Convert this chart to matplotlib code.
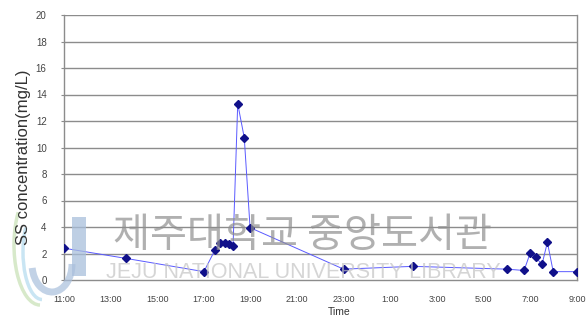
import numpy as np
import matplotlib
matplotlib.use("Agg")
import matplotlib.pyplot as plt
from matplotlib.patches import Arc, Rectangle

# Sampling times (hours after 11:00) and suspended solids concentration
hours = [0.0, 2.66, 6.0, 6.47, 6.71, 6.9, 7.09, 7.25, 7.45, 7.73, 7.98,
         11.99, 14.97, 18.98, 19.73, 20.0, 20.23, 20.5, 20.73, 20.98, 21.98]
ss_conc = [2.4, 1.63, 0.63, 2.25, 2.8, 2.8, 2.7, 2.57, 13.3, 10.75, 3.95,
           0.82, 1.03, 0.82, 0.72, 2.07, 1.7, 1.18, 2.85, 0.63, 0.63]

tick_hours = [0, 2, 4, 6, 8, 10, 12, 14, 16, 18, 20, 22]
tick_labels = ["11:00", "13:00", "15:00", "17:00", "19:00", "21:00",
               "23:00", "1:00", "3:00", "5:00", "7:00", "9:00"]
y_ticks = [0, 2, 4, 6, 8, 10, 12, 14, 16, 18, 20]

W, H = 586, 320


def fx(x):
    return x / W


def fy(y):
    return 1 - y / H


plt.rcParams["font.family"] = ["Liberation Sans", "DejaVu Sans"]

fig = plt.figure(figsize=(W / 100, H / 100), dpi=100)
fig.patch.set_facecolor("white")
ax = fig.add_axes([fx(64), fy(280), fx(577) - fx(64), fy(15) - fy(280)])

grid_c = "#8c8c8c"
for yv in y_ticks[1:]:
    ax.axhline(yv, color=grid_c, lw=1.0, zorder=1)

ax.plot(hours, ss_conc, color="#5a5aff", lw=0.7, zorder=3)
ax.plot(hours, ss_conc, linestyle="none", marker="D", ms=4.2,
        color="#10108a", zorder=4)

ax.set_xlim(0, 22)
ax.set_ylim(0, 20)
ax.set_xticks(tick_hours)
ax.set_xticklabels(tick_labels, fontsize=6.5, color="#444444")
ax.set_yticks(y_ticks)
ax.set_yticklabels([str(v) for v in y_ticks], fontsize=7, color="#444444")
ax.tick_params(axis="x", length=0, pad=11)
ax.tick_params(axis="y", length=2.5, width=0.8, color=grid_c, pad=10)
for side in ["left", "right", "bottom"]:
    ax.spines[side].set_color(grid_c)
    ax.spines[side].set_linewidth(1.0)
ax.spines["top"].set_visible(False)

fig.text(fx(24), fy(157), "SS concentration(mg/L)", rotation=90,
         ha="center", va="center", fontsize=12, color="#333333")
fig.text(fx(339), fy(312), "Time", ha="center", va="center",
         fontsize=7.5, color="#333333")

# Library watermark: emblem and name
emblem_c = "#a9bfdc"
fig.patches.append(Rectangle((fx(72), fy(276)), fx(86) - fx(72),
                             fy(217) - fy(276), transform=fig.transFigure,
                             facecolor=emblem_c, edgecolor="none",
                             alpha=0.75, zorder=2))
fig.patches.append(Arc((fx(52), fy(264)), fx(72) - fx(32), fy(236) - fy(292),
                       theta1=200, theta2=360, transform=fig.transFigure,
                       color=emblem_c, lw=5, alpha=0.7, zorder=2))
fig.patches.append(Arc((fx(40), fy(245)), fx(62) - fx(10), fy(180) - fy(300),
                       theta1=110, theta2=270, transform=fig.transFigure,
                       color="#c7e0b4", lw=2.5, alpha=0.7, zorder=2))
fig.patches.append(Arc((fx(42), fy(252)), fx(58) - fx(20), fy(205) - fy(300),
                       theta1=110, theta2=270, transform=fig.transFigure,
                       color="#b3dbef", lw=2.5, alpha=0.7, zorder=2))

fig.text(fx(113), fy(236), "제주대학교 중앙도서관", ha="left", va="center",
         fontsize=29, color="#8f8f8f", alpha=0.7,
         family=["Noto Sans CJK KR", "DejaVu Sans"], zorder=5)
fig.text(fx(106), fy(272), "JEJU NATIONAL UNIVERSITY LIBRARY", ha="left",
         va="center", fontsize=15.5, color="#c4c4c4", alpha=0.7, zorder=5)

fig.savefig("out.png", dpi=100, facecolor="white")
